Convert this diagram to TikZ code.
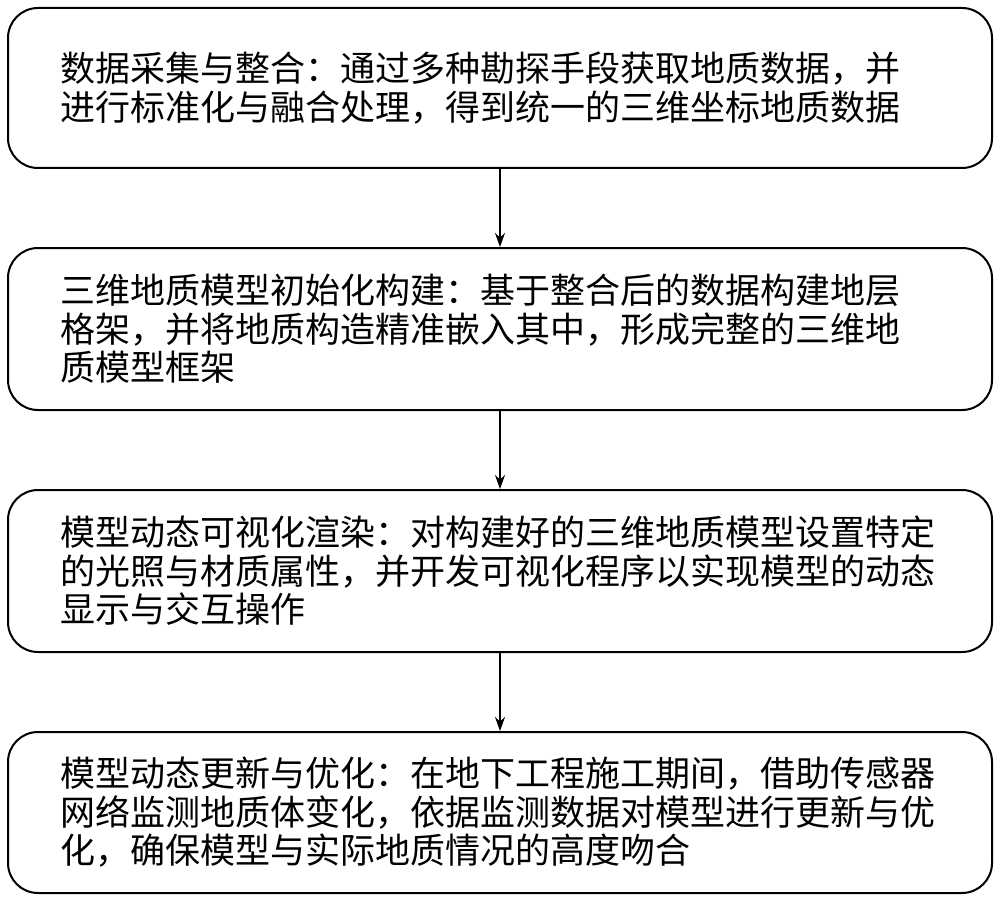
\documentclass[tikz,border=0pt]{standalone}
\usepackage{fontspec}
\newfontfamily\cjk{Noto Sans CJK SC}
\usetikzlibrary{arrows.meta}
\begin{document}
\begin{tikzpicture}[x=1pt,y=1pt,
  stepbox/.style={draw=black,line width=2pt,rounded corners=30pt,minimum width=984pt,
    inner xsep=52pt,inner ysep=0pt,text width=880pt,align=left,
    font=\cjk\fontsize{35}{38.5}\selectfont},
  conn/.style={line width=1.5pt,-{Stealth[length=14pt,width=10pt]}}]
\useasboundingbox (0,0) rectangle (1000,-901);
\node[stepbox,minimum height=160pt] (a) at (500,-88) {数据采集与整合：通过多种勘探手段获取地质数据，并\\进行标准化与融合处理，得到统一的三维坐标地质数据};
\node[stepbox,minimum height=162pt] (b) at (500,-329) {三维地质模型初始化构建：基于整合后的数据构建地层\\格架，并将地质构造精准嵌入其中，形成完整的三维地\\质模型框架};
\node[stepbox,minimum height=162pt] (c) at (500,-571) {模型动态可视化渲染：对构建好的三维地质模型设置特定\\的光照与材质属性，并开发可视化程序以实现模型的动态\\显示与交互操作};
\node[stepbox,minimum height=161pt] (d) at (500,-812.5) {模型动态更新与优化：在地下工程施工期间，借助传感器\\网络监测地质体变化，依据监测数据对模型进行更新与优\\化，确保模型与实际地质情况的高度吻合};
\draw[conn] (a) -- (b);
\draw[conn] (b) -- (c);
\draw[conn] (c) -- (d);
\end{tikzpicture}
\end{document}
